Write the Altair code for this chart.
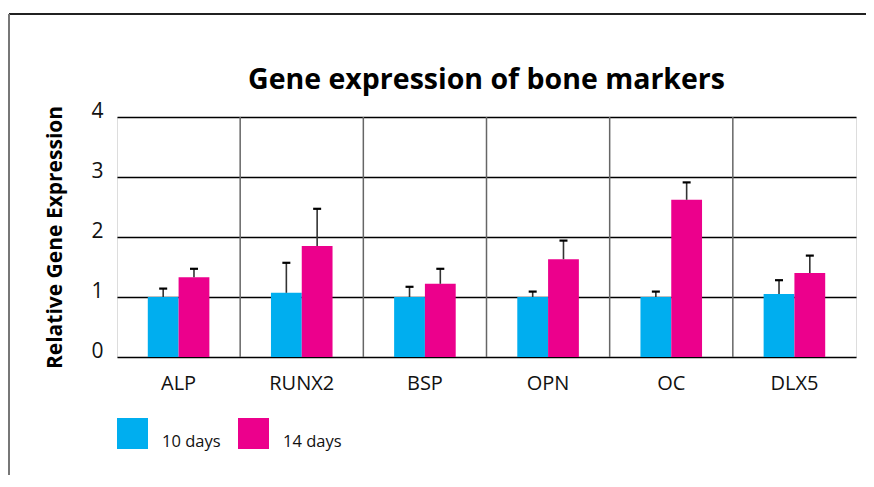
import altair as alt
import pandas as pd

genes = ["ALP", "RUNX2", "BSP", "OPN", "OC", "DLX5"]
series = ["10 days", "14 days"]
values_10 = [1.00, 1.07, 1.00, 1.00, 1.00, 1.05]
err_10 = [0.14, 0.50, 0.17, 0.09, 0.09, 0.23]
values_14 = [1.33, 1.85, 1.22, 1.63, 2.62, 1.40]
err_14 = [0.14, 0.62, 0.25, 0.31, 0.29, 0.29]
y_ticks = [0, 1, 2, 3, 4]
colors = ["#00AEEF", "#EC008C"]
title_text = "Gene expression of bone markers"

rows = []
for g, v, e in zip(genes, values_10, err_10):
    rows.append({"gene": g, "series": series[0], "value": v, "upper": v + e})
for g, v, e in zip(genes, values_14, err_14):
    rows.append({"gene": g, "series": series[1], "value": v, "upper": v + e})
df = pd.DataFrame(rows)
gdf = pd.DataFrame({"gene": genes[1:]})
tdf = pd.DataFrame({"t": [title_text]})

FONT = "Open Sans"

x_axis = alt.Axis(title=None, labelAngle=0, labelFontSize=20, labelFont=FONT,
                  labelColor="#111", labelPadding=16, ticks=False, domain=False,
                  grid=False, labelBaseline="top", labelAlign="center", bandPosition=0.5)
x_enc = alt.X("gene:N", sort=genes, scale=alt.Scale(paddingInner=0, paddingOuter=0),
              axis=x_axis)
xoff = alt.XOffset("series:N", sort=series, scale=alt.Scale(paddingInner=0, paddingOuter=1))
y_scale = alt.Scale(domain=[0, 4], nice=False)

bars = alt.Chart(df).mark_bar(opacity=1).encode(
    x=x_enc,
    xOffset=xoff,
    y=alt.Y("value:Q", scale=y_scale,
            axis=alt.Axis(values=y_ticks, format="d", title="Relative Gene Expression",
                          titleFont=FONT, titleFontSize=21, titleFontWeight="bold",
                          titleColor="#000", titleX=-62, titleY=120, titleAngle=-90,
                          titleBaseline="middle", titleAlign="center",
                          labelFont=FONT, labelFontSize=21, labelColor="#111",
                          labelPadding=14, labelBaseline="alphabetic", ticks=False,
                          domain=False, grid=True, gridColor="#000", gridWidth=1.3,
                          gridOpacity=1)),
    color=alt.Color("series:N", sort=series, scale=alt.Scale(domain=series, range=colors),
                    legend=alt.Legend(title=None, orient="none", legendX=0, legendY=301,
                                      direction="horizontal", symbolType="square",
                                      symbolSize=961, symbolStrokeWidth=0, symbolOpacity=1,
                                      labelFont=FONT, labelFontSize=16.5, labelColor="#111",
                                      labelOffset=14, columnPadding=17, padding=0,
                                      labelBaseline="top")),
)

err_line = alt.Chart(df).mark_rule(color="#333", strokeWidth=1.6).encode(
    x=alt.X("gene:N", sort=genes, axis=x_axis),
    xOffset=alt.XOffset("series:N", sort=series),
    y=alt.Y("value:Q"),
    y2="upper:Q",
)

caps = alt.Chart(df).mark_point(shape="M-1,0L1,0", size=64, filled=False, color="#000",
                                strokeWidth=2.2, opacity=1).encode(
    x=alt.X("gene:N", sort=genes, axis=x_axis),
    xOffset=alt.XOffset("series:N", sort=series),
    y=alt.Y("upper:Q"),
)

dividers = alt.Chart(gdf).mark_rule(color="#666", strokeWidth=1.5).encode(
    x=alt.X("gene:N", sort=genes, bandPosition=0, axis=x_axis),
)

title = alt.Chart(tdf).mark_text(font=FONT, fontSize=28.5, fontWeight="bold", color="#000",
                                 align="center", baseline="alphabetic").encode(
    text="t:N", x=alt.value(369.5), y=alt.value(-28))

frame_top = alt.Chart(gdf).mark_rule(color="#222", strokeWidth=1.5).encode(
    x=alt.value(-108), x2=alt.value(760), y=alt.value(-103))
frame_left = alt.Chart(gdf).mark_rule(color="#777", strokeWidth=2).encode(
    x=alt.value(-108), y=alt.value(-103), y2=alt.value(400))

chart = alt.layer(bars, dividers, err_line, caps, title, frame_top, frame_left).properties(
    width=739, height=240,
    autosize=alt.AutoSizeParams(type="none"),
    padding={"left": 109, "top": 109, "right": 10, "bottom": 118},
).configure_view(stroke="#777", strokeWidth=1.5).configure(background="white")

chart.save("out.html", embed_options={"renderer": "svg", "actions": False})
